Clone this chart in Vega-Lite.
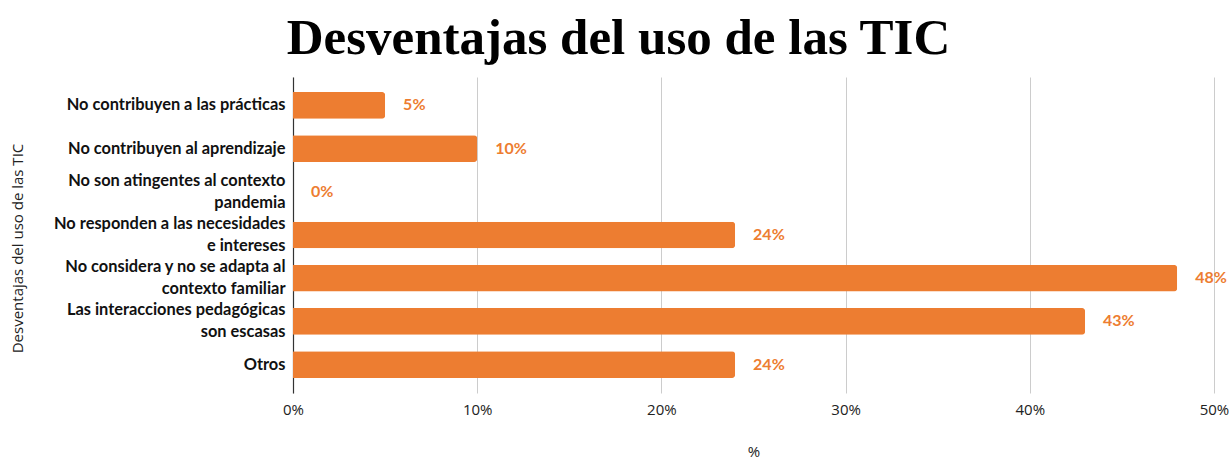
{
  "$schema": "https://vega.github.io/schema/vega-lite/v6.json",
  "autosize": {"type": "none"},
  "width": 921,
  "height": 316,
  "padding": {"left": 293, "top": 77, "right": 15, "bottom": 67},
  "background": "white",
  "title": {
    "text": "Desventajas del uso de las TIC",
    "font": "Liberation Serif",
    "fontSize": 51,
    "fontWeight": "bold",
    "color": "#000000",
    "anchor": "middle",
    "dx": -135,
    "offset": 12
  },
  "data": {
    "values": [
      {"categoria": "No contribuyen a las prácticas", "valor": 5},
      {"categoria": "No contribuyen al aprendizaje", "valor": 10},
      {"categoria": "No son atingentes al contexto|pandemia", "valor": 0},
      {"categoria": "No responden a las necesidades|e intereses", "valor": 24},
      {"categoria": "No considera y no se adapta al|contexto familiar", "valor": 48},
      {"categoria": "Las interacciones pedagógicas|son escasas", "valor": 43},
      {"categoria": "Otros", "valor": 24}
    ]
  },
  "encoding": {
    "y": {
      "field": "categoria",
      "type": "nominal",
      "sort": null,
      "scale": {"paddingInner": 0.384, "paddingOuter": 0.35},
      "axis": {
        "title": "Desventajas del uso de las TIC",
        "titleFont": "Open Sans",
        "titleFontSize": 15,
        "titleFontWeight": "normal",
        "titleColor": "#222222",
        "titleX": -276,
        "titleY": 171,
        "titleAlign": "center",
        "titleBaseline": "middle",
        "titleAngle": -90,
        "labelExpr": "split(datum.label, '|')",
        "labelFont": "Lato",
        "labelFontSize": 16.4,
        "labelFontWeight": "bold",
        "labelColor": "#111111",
        "labelLineHeight": 22,
        "labelOffset": {"condition": {"test": "indexof(datum.value, '|') >= 0", "value": -11}, "value": 0},
        "labelPadding": 8,
        "labelLimit": 400,
        "ticks": false,
        "domain": true,
        "domainColor": "#333333",
        "domainWidth": 1.2,
        "grid": false
      }
    },
    "x": {
      "field": "valor",
      "type": "quantitative",
      "scale": {"domain": [0, 50]},
      "axis": {
        "title": "%",
        "titleFont": "Open Sans",
        "titleFontSize": 15,
        "titleFontWeight": "normal",
        "titleColor": "#222222",
        "titlePadding": 27,
        "values": [0, 10, 20, 30, 40, 50],
        "labelExpr": "datum.value + '%'",
        "labelFont": "Open Sans",
        "labelFontSize": 15,
        "labelColor": "#222222",
        "labelPadding": 9,
        "labelFlush": false,
        "ticks": false,
        "domain": false,
        "grid": true,
        "gridColor": "#cccccc",
        "gridWidth": 1
      }
    }
  },
  "layer": [
    {
      "mark": {"type": "bar", "color": "#ED7D31", "cornerRadiusEnd": 3}
    },
    {
      "mark": {
        "type": "text",
        "align": "left",
        "baseline": "middle",
        "dx": 18,
        "font": "Lato",
        "fontSize": 16,
        "fontWeight": "bold",
        "color": "#ED7D31",
        "text": {"expr": "datum.valor + '%'"}
      }
    }
  ],
  "config": {
    "view": {"stroke": null}
  }
}
